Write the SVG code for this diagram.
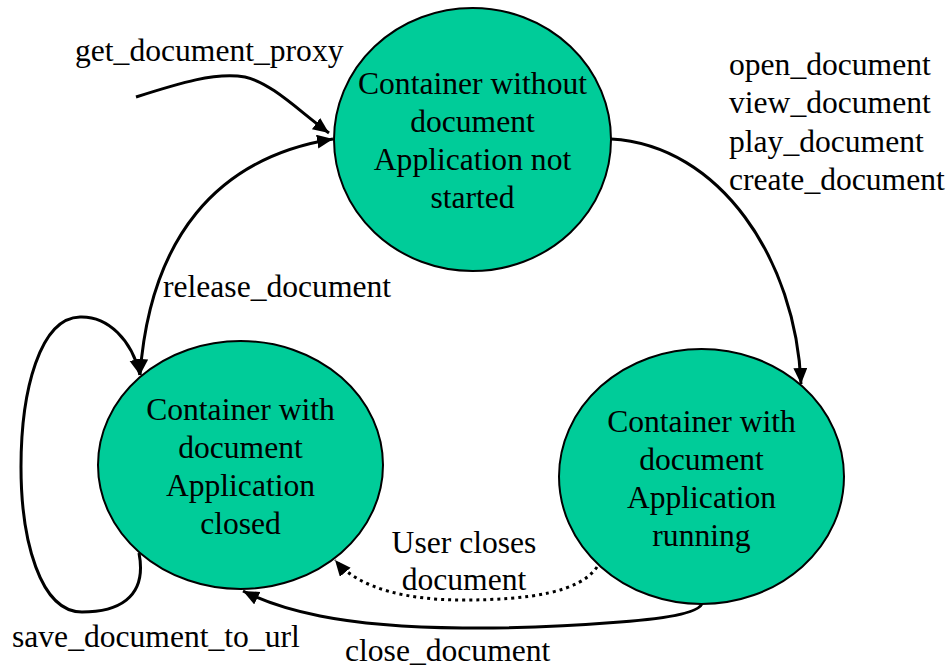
<svg xmlns="http://www.w3.org/2000/svg" width="948" height="669" viewBox="0 0 948 669">
  <style>
    .state { fill: #00cc99; stroke: #000; stroke-width: 2; }
    text { font-family: "Liberation Serif", "Times New Roman", serif; font-size: 31.6px; fill: #000; }
    .c { text-anchor: middle; }
    .edge { fill: none; stroke: #000; stroke-width: 3; }
    .dotted { stroke-dasharray: 3 4; }
  </style>
  <defs>
    <marker id="arrow" markerUnits="userSpaceOnUse" markerWidth="18" markerHeight="16" refX="16" refY="7" orient="auto-start-reverse">
      <path d="M0,0 L16,7 L0,14 Z" fill="#000"/>
    </marker>
  </defs>

  <rect width="948" height="669" fill="#fff"/>

  <g id="connectors">
    <!-- get_document_proxy: entry into initial state -->
    <path class="edge" d="M136,97 C180,83 215,72 245,77 C272,83 300,112 329,133" marker-end="url(#arrow)"/>
    <!-- release_document: two-way between top and bottom-left -->
    <path class="edge" d="M140,375 C150,240 215,158 333,139" marker-start="url(#arrow)" marker-end="url(#arrow)"/>
    <!-- open/view/play/create_document -->
    <path class="edge" d="M611,139 C720,145 796,260 801,384" marker-end="url(#arrow)"/>
    <!-- save_document_to_url self loop -->
    <path class="edge" d="M139,553 C148,600 115,612 82,612 C40,612 21,540 21,467 C21,390 40,318 80,317 C108,316 132,340 140,375" marker-end="url(#arrow)"/>
    <!-- user closes document -->
    <path class="edge dotted" d="M597,567 C580,592 530,600 463,600 C410,600 360,590 335,560" marker-end="url(#arrow)"/>
    <!-- close_document -->
    <path class="edge" d="M702,603 Q700,616 620,622 C520,630 400,632 320,616 C290,610 265,602 243,591" marker-end="url(#arrow)"/>
  </g>

  <g id="state-no-document">
    <ellipse class="state" cx="472.5" cy="139.5" rx="138.5" ry="131.5"/>
    <text class="c" x="472.5" y="94">Container without</text>
    <text class="c" x="472.5" y="132">document</text>
    <text class="c" x="472.5" y="170">Application not</text>
    <text class="c" x="472.5" y="208">started</text>
  </g>

  <g id="state-app-closed">
    <ellipse class="state" cx="240.5" cy="465" rx="142.5" ry="124"/>
    <text class="c" x="240.5" y="420">Container with</text>
    <text class="c" x="240.5" y="458">document</text>
    <text class="c" x="240.5" y="496">Application</text>
    <text class="c" x="240.5" y="534">closed</text>
  </g>

  <g id="state-app-running">
    <ellipse class="state" cx="701.5" cy="476.5" rx="142.5" ry="127.5"/>
    <text class="c" x="701.5" y="432">Container with</text>
    <text class="c" x="701.5" y="470">document</text>
    <text class="c" x="701.5" y="508">Application</text>
    <text class="c" x="701.5" y="546">running</text>
  </g>

  <g id="labels">
    <text x="75" y="61">get_document_proxy</text>
    <text x="729" y="75">open_document</text>
    <text x="729" y="113">view_document</text>
    <text x="729" y="152">play_document</text>
    <text x="729" y="190">create_document</text>
    <text x="163" y="297">release_document</text>
    <text x="12" y="647">save_document_to_url</text>
    <text class="c" x="464" y="553">User closes</text>
    <text class="c" x="464" y="590">document</text>
    <text x="345" y="661">close_document</text>
  </g>
</svg>
